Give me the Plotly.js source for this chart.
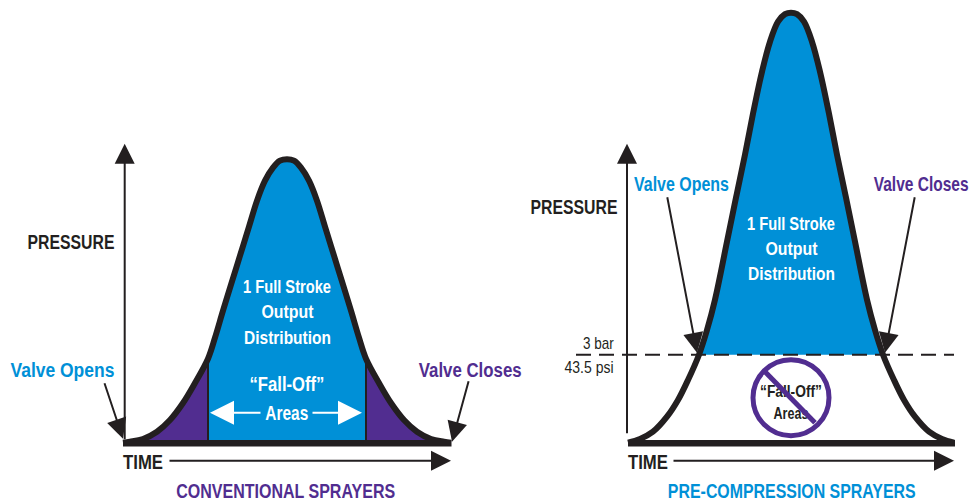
<!DOCTYPE html>
<html><head><meta charset="utf-8">
<script src="https://cdn.plot.ly/plotly-3.0.1.min.js"></script>
<style>html,body{margin:0;padding:0;background:#fff}#c{width:969px;height:501px}</style>
</head><body><div id="c"></div>
<script>
// Conventional sprayer: time vs pressure (arbitrary units)
const convTime = [0,7,20,34,47,60,72,85,92,100,108,117,126,134,142,150,157,164,171,178,186,194,202,211,220,228,236,243,256,268,281,294,308,321,328];
const convPressure = [0,1,3.7,11,22.7,39.7,59.7,84,105,132,158,187,216,242,262,275,282,283.5,282,275,262,242,216,187,158,132,105,84,59.7,39.7,22.7,11,3.7,1,0];
// Pre-compression sprayer
const preTime = [0,12,25,39,50,60,71,79,87,99,108,117,125,134,142,150,157,163,169,176,184,192,201,209,218,227,239,247,255,266,276,287,301,314,326];
const prePressure = [0,3.7,11,26,42.7,62.7,88,112.7,143,201,245,288,329,371,401,421,428.5,430,428.5,421,401,371,329,288,245,201,143,112.7,88,62.7,42.7,26,11,3.7,0];
const threshold = 88;
const BLUE='#0090d7', PURPLE='#512d90', INK='#231f20';
const FONT='"Liberation Sans",sans-serif';

const slice=(a,i,j)=>a.slice(i,j+1);
function area(xs,ys,color,xa){return {x:xs,y:ys,xaxis:xa,yaxis:'y',mode:'lines',fill:'toself',fillcolor:color,line:{width:0,color:color},hoverinfo:'skip'};}
function stroke(xs,ys,w,xa,extra){return {x:xs,y:ys,xaxis:xa,yaxis:'y',mode:'lines',line:Object.assign({color:INK,width:w},extra||{}),hoverinfo:'skip'};}

const iL=7,iR=27;   // fall-off boundaries, conventional
const jL=6,jR=28;   // threshold crossings, pre-compression

const traces=[
 area([convTime[iL],...slice(convTime,iL,iR),convTime[iR]],[0,...slice(convPressure,iL,iR),0],BLUE,'x'),
 area([...slice(convTime,1,iL),convTime[iL]],[...slice(convPressure,1,iL),0],PURPLE,'x'),
 area([convTime[iR],...slice(convTime,iR,33)],[0,...slice(convPressure,iR,33)],PURPLE,'x'),
 stroke([convTime[iL],convTime[iL]],[0,convPressure[iL]],2,'x'),
 stroke([convTime[iR],convTime[iR]],[0,convPressure[iR]],2,'x'),
 stroke(convTime,convPressure,6,'x',{shape:'spline',smoothing:1}),
 stroke([0,328.5],[-0.5,-0.5],6.5,'x'),
 area(slice(preTime,jL,jR),slice(prePressure,jL,jR),BLUE,'x2'),
 stroke([-52,326],[threshold,threshold],2,'x2',{dash:'15px 8px'}),
 stroke(preTime,prePressure,6,'x2',{shape:'spline',smoothing:1}),
 stroke([0,327],[-0.5,-0.5],6.5,'x2'),
 {x:[163,163],y:[50,28],xaxis:'x2',yaxis:'y',mode:'text',text:['<b>“Fall-Off”</b>','<b>Areas</b>'],
  textfont:{family:FONT,size:16,color:INK},textposition:'middle center',hoverinfo:'skip'},
 {x:[163],y:[45],xaxis:'x2',yaxis:'y',mode:'markers',marker:{symbol:'circle-open',size:76,color:PURPLE,line:{width:5,color:PURPLE}},hoverinfo:'skip'},
 {x:[137,187],y:[71,20],xaxis:'x2',yaxis:'y',mode:'lines',line:{color:PURPLE,width:5},hoverinfo:'skip'}
];
const darkTextWidths=[62,35];

function T(text,x,y,xa,color,size,anchor,w,plain){
 return {text:plain?text:'<b>'+text+'</b>',x:x,y:y,xref:xa,yref:'y',showarrow:false,xanchor:anchor||'center',yanchor:'middle',
  font:{family:FONT,size:size,color:color},fitWidth:w};
}
function A(x0,y0,x1,y1,xa,w,size,color){
 return {x:x1,y:y1,ax:x0,ay:y0,xref:xa,yref:'y',axref:xa,ayref:'y',text:'',showarrow:true,arrowhead:2,arrowsize:size,arrowwidth:w,arrowcolor:color||INK,standoff:0,startstandoff:0};
}
const annotations=[
 // left panel
 T('PRESSURE',-52,201,'x',INK,20,'center',87),
 T('Valve Opens',-61,73,'x',BLUE,21,'center',104),
 T('Valve Closes',347,73,'x',PURPLE,21,'center',103),
 T('TIME',-2,-19,'x',INK,20,'left',40),
 T('CONVENTIONAL SPRAYERS',162,-48,'x',PURPLE,20,'center',219),
 T('1 Full Stroke',164,156,'x','#fff',18,'center',88),
 T('Output',164,131,'x','#fff',18,'center',52),
 T('Distribution',164,105,'x','#fff',18,'center',87),
 T('“Fall-Off”',164,59,'x','#fff',20,'center',75),
 T('Areas',164,30,'x','#fff',20,'center',43),
 A(1.7,2,1.7,299,'x',2,2),
 A(45,-18,328,-18,'x',2,2),
 A(-19,61,0,4,'x',2,2),
 A(346,63,329,1,'x',2,2),
 A(139,30,87,30,'x',2,2.4,'#fff'),
 A(188,30,239,30,'x',2,2.4,'#fff'),
 // right panel
 T('PRESSURE',-54,236,'x2',INK,20,'center',87),
 T('Valve Opens',53,259,'x2',BLUE,20,'center',95),
 T('Valve Closes',293,259,'x2',PURPLE,20,'center',95),
 T('TIME',-2,-19,'x2',INK,20,'left',40),
 T('PRE-COMPRESSION SPRAYERS',164,-48,'x2',BLUE,20,'center',248),
 T('1 Full Stroke',163,219,'x2','#fff',18,'center',88),
 T('Output',163,194,'x2','#fff',18,'center',52),
 T('Distribution',163,169,'x2','#fff',18,'center',87),
 T('3 bar',-12,99,'x2',INK,17,'right',31,true),
 T('43.5 psi',-12,75,'x2',INK,17,'right',49,true),
 A(-1,8,-1,299,'x2',2,2),
 A(44,-18,326,-18,'x2',2,2),
 A(39,247,69,90,'x2',2,2),
 A(287,247,257,90,'x2',2,2)
];

function fit(el,w,origin){
 const bb=el.getBBox(); if(!bb.width) return;
 el.style.transformBox='fill-box';
 el.style.transformOrigin=origin;
 el.style.transform='scaleX('+(w/bb.width)+')';
}
Plotly.newPlot('c',traces,{
 width:969,height:501,margin:{l:0,r:0,t:0,b:0},showlegend:false,paper_bgcolor:'#fff',plot_bgcolor:'#fff',
 xaxis:{domain:[0,0.5],range:[-123,361.5],visible:false,fixedrange:true},
 xaxis2:{domain:[0.5,1],range:[-143.5,341],visible:false,fixedrange:true},
 yaxis:{range:[-58.3,442.7],visible:false,fixedrange:true},
 annotations:annotations
},{staticPlot:true,displayModeBar:false}).then(gd=>{
 // The reference type is condensed; no condensed face is installed, so narrow the text to the reference widths.
 document.querySelectorAll('.annotation').forEach(g=>{
  const i=+g.getAttribute('data-index'), a=annotations[i], el=g.querySelector('.annotation-text');
  if(a&&a.fitWidth&&el) fit(el,a.fitWidth,a.xanchor==='left'?'left center':a.xanchor==='right'?'right center':'center');
 });
 document.querySelectorAll('.textpoint text').forEach((el,k)=>fit(el,darkTextWidths[k],'center'));
});
</script></body></html>
